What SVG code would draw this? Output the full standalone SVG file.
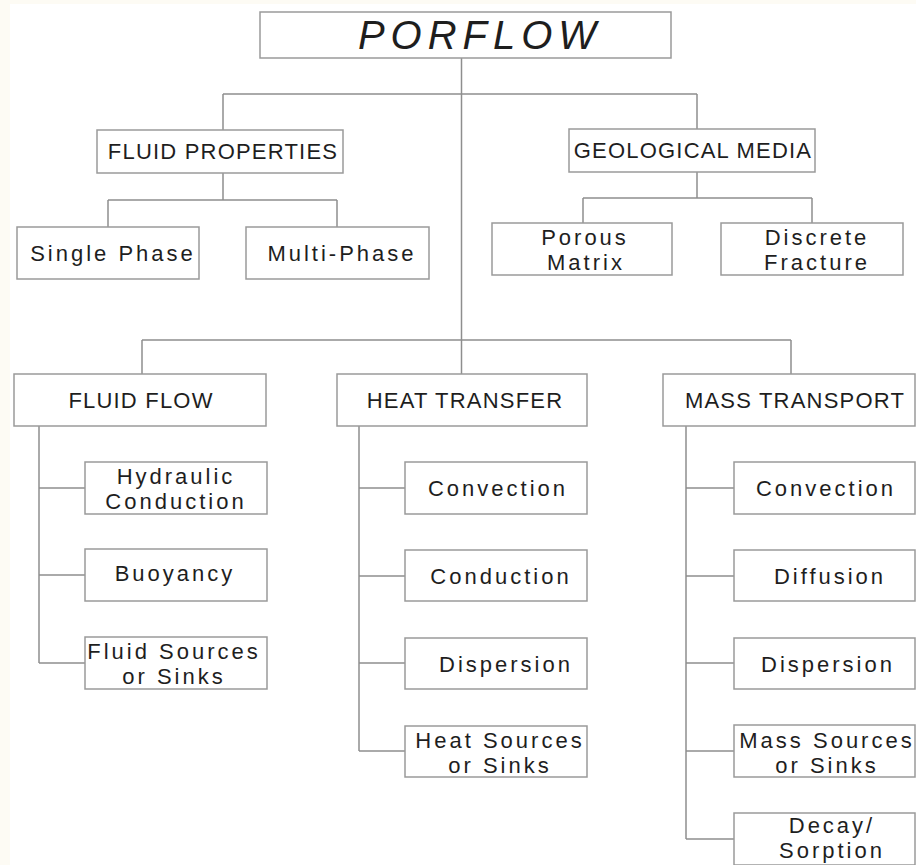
<svg xmlns="http://www.w3.org/2000/svg" width="916" height="865" viewBox="0 0 916 865">
<style>
.bg{fill:#fdfbf4}
.box{fill:#ffffff;stroke:#9a9a9a;stroke-width:1.5}
.ln{fill:none;stroke:#8e8e8e;stroke-width:1.5}
text{font-family:"Liberation Sans",Arial,Helvetica,sans-serif;fill:#1e1e1e;text-anchor:middle}
.t{font-size:40px;font-style:italic;letter-spacing:6px}
.c{font-size:22px;letter-spacing:1.2px}
.m{font-size:22px;letter-spacing:3px}
</style>
<rect class="bg" x="0" y="0" width="916" height="865"/>
<rect x="10" y="4" width="906" height="861" fill="#ffffff"/>
<g id="connectors">
<path class="ln" d="M461.5,58 V374"/>
<path class="ln" d="M223,94 H697 M223,94 V130 M697,94 V129"/>
<path class="ln" d="M223,173 V200 M108,200 H337 M108,200 V227 M337,200 V227"/>
<path class="ln" d="M697,172 V198 M583,198 H812 M583,198 V223 M812,198 V223"/>
<path class="ln" d="M142,340 H791 M142,340 V374 M791,340 V374"/>
<path class="ln" d="M39,426 V663 M39,488 H85 M39,575 H85 M39,663 H85"/>
<path class="ln" d="M359,426 V751 M359,488 H405 M359,576 H405 M359,663 H405 M359,751 H405"/>
<path class="ln" d="M686,426 V839 M686,488 H734 M686,576 H734 M686,663 H734 M686,751 H734 M686,839 H734"/>
</g>
<g id="porflow"><rect class="box" x="260" y="12" width="411" height="46"/><text class="t" x="480" y="49">PORFLOW</text></g>
<g id="fluid-properties"><rect class="box" x="97" y="130" width="246" height="43"/><text class="c" x="223" y="159">FLUID PROPERTIES</text></g>
<g id="geological-media"><rect class="box" x="569" y="129" width="246" height="43"/><text class="c" x="693" y="158">GEOLOGICAL MEDIA</text></g>
<g id="single-phase"><rect class="box" x="17" y="227" width="182" height="52"/><text class="m" x="113" y="261">Single Phase</text></g>
<g id="multi-phase"><rect class="box" x="246" y="227" width="183" height="52"/><text class="m" x="342" y="261">Multi-Phase</text></g>
<g id="porous-matrix"><rect class="box" x="492" y="223" width="180" height="52"/><text class="m" x="585" y="245">Porous</text><text class="m" x="586" y="270">Matrix</text></g>
<g id="discrete-fracture"><rect class="box" x="721" y="223" width="182" height="52"/><text class="m" x="817" y="245">Discrete</text><text class="m" x="817" y="270">Fracture</text></g>
<g id="fluid-flow"><rect class="box" x="14" y="374" width="252" height="52"/><text class="c" x="141" y="408">FLUID FLOW</text></g>
<g id="heat-transfer"><rect class="box" x="337" y="374" width="250" height="52"/><text class="c" x="465" y="408">HEAT TRANSFER</text></g>
<g id="mass-transport"><rect class="box" x="663" y="374" width="252" height="52"/><text class="c" x="795" y="408">MASS TRANSPORT</text></g>
<g id="hydraulic-conduction"><rect class="box" x="85" y="462" width="182" height="52"/><text class="m" x="176" y="484">Hydraulic</text><text class="m" x="176" y="509">Conduction</text></g>
<g id="buoyancy"><rect class="box" x="85" y="549" width="182" height="52"/><text class="m" x="175" y="581">Buoyancy</text></g>
<g id="fluid-sources"><rect class="box" x="85" y="637" width="182" height="52"/><text class="m" x="174" y="659">Fluid Sources</text><text class="m" x="174" y="684">or Sinks</text></g>
<g id="ht-convection"><rect class="box" x="405" y="462" width="182" height="52"/><text class="m" x="498" y="496">Convection</text></g>
<g id="ht-conduction"><rect class="box" x="405" y="550" width="182" height="51"/><text class="m" x="501" y="584">Conduction</text></g>
<g id="ht-dispersion"><rect class="box" x="405" y="638" width="182" height="51"/><text class="m" x="506" y="672">Dispersion</text></g>
<g id="heat-sources"><rect class="box" x="405" y="726" width="182" height="51"/><text class="m" x="500" y="748">Heat Sources</text><text class="m" x="500" y="773">or Sinks</text></g>
<g id="mt-convection"><rect class="box" x="734" y="462" width="181" height="52"/><text class="m" x="826" y="496">Convection</text></g>
<g id="mt-diffusion"><rect class="box" x="734" y="550" width="181" height="51"/><text class="m" x="830" y="584">Diffusion</text></g>
<g id="mt-dispersion"><rect class="box" x="734" y="638" width="181" height="51"/><text class="m" x="828" y="672">Dispersion</text></g>
<g id="mass-sources"><rect class="box" x="734" y="725" width="181" height="52"/><text class="m" x="827" y="748">Mass Sources</text><text class="m" x="827" y="773">or Sinks</text></g>
<g id="decay-sorption"><rect class="box" x="734" y="813" width="181" height="52"/><text class="m" x="832" y="833">Decay/</text><text class="m" x="832" y="858">Sorption</text></g>
</svg>
